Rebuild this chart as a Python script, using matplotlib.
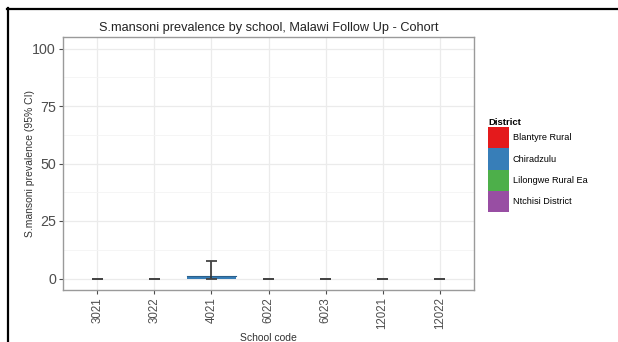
import matplotlib
matplotlib.use("Agg")
import matplotlib.pyplot as plt
from matplotlib.patches import Patch
from matplotlib.lines import Line2D
import numpy as np

plt.rcParams['font.family'] = ['Liberation Sans', 'DejaVu Sans']

schools = ["3021", "3022", "4021", "6022", "6023", "12021", "12022"]
prevalence = [0, 0, 1.2, 0, 0, 0, 0]
ci_low = [0, 0, 0, 0, 0, 0, 0]
ci_high = [0, 0, 7.4, 0, 0, 0, 0]
school_district = ["Chiradzulu"] * 7
districts = ["Blantyre Rural", "Chiradzulu", "Lilongwe Rural Ea", "Ntchisi District"]
district_colors = ["#E41A1C", "#377EB8", "#4DAF4A", "#984EA3"]
yticks = [0, 25, 50, 75, 100]

W, H = 618, 342
fig = plt.figure(figsize=(W / 100, H / 100), dpi=100)
ax = fig.add_axes([63 / W, (H - 290) / H, (474 - 63) / W, (290 - 37) / H])

x = np.arange(len(schools))
cmap = dict(zip(districts, district_colors))
cols = [cmap[d] for d in school_district]

ax.bar(x, prevalence, width=0.85, color=cols, edgecolor="none", linewidth=0, zorder=3)
for xi, p, c in zip(x, prevalence, cols):
    if p > 0:
        ax.plot([xi - 0.425, xi + 0.425], [p, p], color="#2b5f8a", lw=0.8, zorder=3)
for xi, lo, hi in zip(x, ci_low, ci_high):
    ax.plot([xi, xi], [lo, hi], color="#333333", lw=1.2, zorder=4, solid_capstyle="butt")
    for yv in (lo, hi):
        ax.plot([xi - 0.095, xi + 0.095], [yv, yv], color="#444444", lw=1.3, zorder=4,
                solid_capstyle="butt")

ax.set_xlim(-0.6, len(schools) - 1 + 0.6)
ax.set_ylim(-5, 105)
ax.set_xticks(x)
ax.set_xticklabels(schools, rotation=90, fontsize=8.3, color="#4D4D4D")
ax.set_yticks(yticks)
ax.set_yticklabels([str(v) for v in yticks], fontsize=10.3, color="#4D4D4D")
ax.set_yticks([12.5, 37.5, 62.5, 87.5], minor=True)
ax.tick_params(axis="both", which="major", length=3, color="#4D4D4D", width=0.8, pad=2)
ax.tick_params(axis="y", which="minor", length=0)
ax.grid(True, which="major", color="#EBEBEB", lw=0.9, zorder=0)
ax.grid(True, which="minor", axis="y", color="#F4F4F4", lw=0.6, zorder=0)
for s in ax.spines.values():
    s.set_color("#9A9A9A")
    s.set_linewidth(1.0)

ax.set_title("S.mansoni prevalence by school, Malawi Follow Up - Cohort", fontsize=9.2,
             color="#222222", pad=4)
ax.set_ylabel("S.mansoni prevalence (95% CI)", fontsize=7.5, color="#333333")
ax.yaxis.set_label_coords((35 - 63) / 411, 0.5)
ax.set_xlabel("School code", fontsize=7.5, color="#333333")
ax.xaxis.set_label_coords(0.5, -(333 - 290) / 253)

handles = [Patch(facecolor=c, edgecolor="none") for c in district_colors]
leg = fig.legend(handles, districts, loc="upper left", bbox_to_anchor=(488 / W, 1 - 118 / H),
                 frameon=False, fontsize=6.6, title="District", title_fontsize=6.8,
                 handlelength=2.3, handleheight=3.2, labelspacing=0.0, handletextpad=0.4,
                 borderaxespad=0, borderpad=0)
leg.get_title().set_fontweight("bold")
leg._legend_box.align = "left"

# screenshot frame
fig.add_artist(Line2D([7.5 / W, 7.5 / W], [0, 1 - 8 / H], transform=fig.transFigure,
                      color="black", lw=1.6))
fig.add_artist(Line2D([7 / W, 1], [1 - 8.5 / H, 1 - 8.5 / H], transform=fig.transFigure,
                      color="black", lw=1.6))
fig.text(30 / W, 1 + 4 / H, "(b)", fontsize=9, fontweight="bold", va="bottom")

fig.savefig("out.png", dpi=100)
